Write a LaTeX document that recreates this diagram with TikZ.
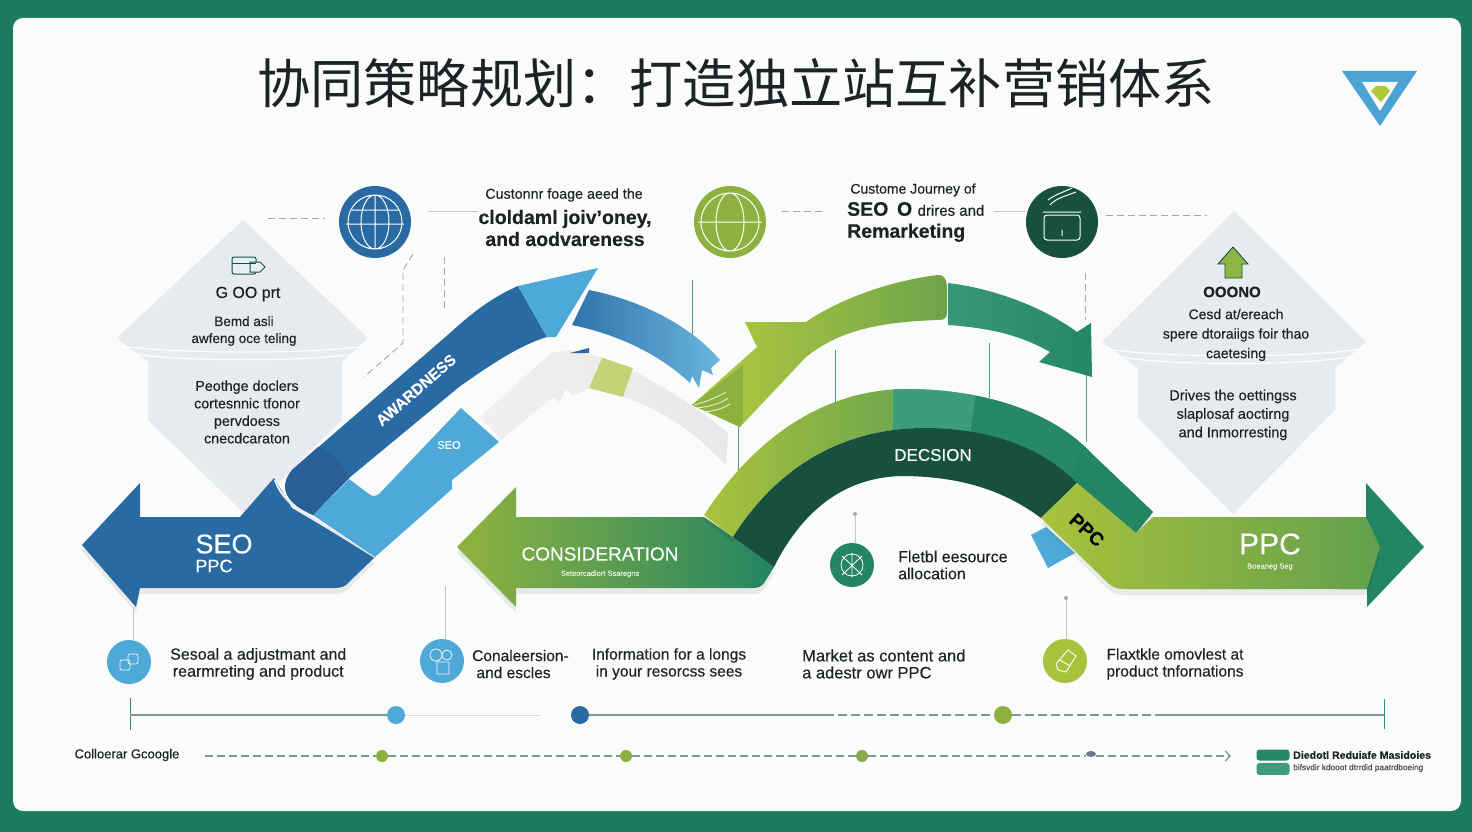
\documentclass[tikz,border=0pt]{standalone}
\usepackage{fontspec}
\setmainfont{Liberation Sans}[FakeBold=0.25]
\newfontfamily\cjk{Noto Sans CJK SC}
\usetikzlibrary{shapes.geometric,arrows.meta,positioning,shadows}
\definecolor{frame}{HTML}{1C7A5F}
\definecolor{card}{HTML}{FAFBFB}
\definecolor{navy}{HTML}{2A6AA3}
\definecolor{navydark}{HTML}{275F96}
\definecolor{sky}{HTML}{4FA9D8}
\definecolor{lime}{HTML}{A9C23C}
\definecolor{limelight}{HTML}{B8CB3F}
\definecolor{leaf}{HTML}{8DB13F}
\definecolor{teal}{HTML}{238562}
\definecolor{tealmid}{HTML}{3E9C7E}
\definecolor{pine}{HTML}{17503F}
\definecolor{panel}{HTML}{E7EBEF}
\definecolor{ink}{HTML}{1E2225}
\definecolor{rail}{HTML}{8A9392}
\begin{document}
\begin{tikzpicture}[
    x=1pt, y=-1pt,
    softshadow/.style={drop shadow={shadow xshift=0pt, shadow yshift=-6pt, opacity=.07, fill=black}},
    panelbox/.style={fill=panel, draw=none},
    disc/.style={circle, inner sep=0pt, minimum size=#1},
    bigdisc/.style={disc=72pt},
    smalldisc/.style={disc=44pt},
    dot/.style={circle, inner sep=0pt, minimum size=#1},
    dashline/.style={gray!70, dashed, dash pattern=on 7pt off 4pt, line width=.9pt},
    thinline/.style={gray!45, line width=.8pt},
    tealline/.style={teal!80, line width=1pt},
    railline/.style={rail, line width=1.2pt},
    railtick/.style={teal!70!sky, line width=1pt},
    icon/.style={white, line width=1pt},
    bodytxt/.style={font=\fontsize{15.5}{17}\selectfont, text=ink, align=center, inner sep=0pt},
    paneltxt/.style={font=\fontsize{14.3}{17.5}\selectfont, text=ink, align=center, inner sep=0pt},
    leadtxt/.style={font=\fontsize{14.3}{15}\selectfont, text=ink, align=center, inner sep=0pt},
    strongtxt/.style={font=\fontsize{19.5}{22}\selectfont\bfseries, text=ink, align=center, inner sep=0pt},
    bandtxt/.style={text=white, inner sep=0pt}
]
\useasboundingbox (0,0) rectangle (1472,832);

% === FRAME ===
\fill[frame] (0,0) rectangle (1472,832);
\fill[card, rounded corners=10pt] (13,18) rectangle (1461,811);

% === TITLE AND LOGO ===
\node[text=ink, inner sep=0pt] (title) at (736,83) {\cjk\fontsize{53.2}{60}\selectfont 协同策略规划：打造独立站互补营销体系};
\fill[sky!90!navy] (1342,71) -- (1417,71) -- (1380,126) -- cycle;
\fill[card] (1362,82) -- (1398,82) -- (1380,111) -- cycle;
\fill[lime!90!yellow] (1371,91) -- (1376,86) -- (1385,86) -- (1390,91) -- (1381,102) -- cycle;

% === SIDE PANELS ===
\fill[panelbox] (243,220) -- (368,338) -- (342,362) -- (342,420) -- (246,515) -- (148,420) -- (148,362) -- (117,338) -- cycle;
\draw[white, line width=1pt] (122,346) .. controls (170,354) and (320,354) .. (364,346);
\draw[white, line width=1pt] (130,353) .. controls (170,362) and (320,362) .. (356,353);
\fill[panelbox] (1234,211) -- (1366,342) -- (1335,368) -- (1335,410) -- (1233,514) -- (1138,418) -- (1138,368) -- (1102,342) -- cycle;
\draw[white, line width=1pt] (1108,349) .. controls (1160,358) and (1310,358) .. (1360,349);
\draw[white, line width=1pt] (1116,356) .. controls (1160,366) and (1310,366) .. (1352,356);

% === PANEL TEXT ===
\node[font=\fontsize{16}{18}\selectfont, text=ink, inner sep=0pt] (left-head) at (248,294) {G OO prt};
\node[paneltxt, font=\fontsize{13.5}{17}\selectfont] (left-top) at (244,331) {Bemd asli\\awfeng oce teling};
\node[paneltxt] (left-low) at (247,412) {Peothge doclers\\cortesnnic tfonor\\pervdoess\\cnecdcaraton};
\node[font=\fontsize{15}{17}\selectfont\bfseries, text=ink, inner sep=0pt] (right-head) at (1232,292) {OOONO};
\node[paneltxt, font=\fontsize{14}{19.5}\selectfont] (right-top) at (1236,335) {Cesd at/ereach\\spere dtoraiigs foir thao\\caetesing};
\node[paneltxt, font=\fontsize{14.5}{18.5}\selectfont] (right-low) at (1233,415) {Drives the oettingss\\slaplosaf aoctirng\\and Inmorresting};

% === PANEL ICONS ===
\draw[pine, line width=1pt, fill=panel!60!sky!30, rounded corners=2pt] (232,257) rectangle (256,274);
\draw[pine, line width=1pt, fill=panel!60!sky!30] (250,262) -- (260,262) -- (265,267) -- (260,272) -- (250,272) -- cycle;
\draw[pine, line width=.8pt] (232,263) -- (256,263);
\draw[pine, line width=.9pt, fill=lime!80!teal] (1233,247) -- (1248,264) -- (1242,264) -- (1242,278) -- (1225,278) -- (1225,264) -- (1218,264) -- cycle;

% === GUIDE LINES BEHIND THE ARROWS ===
\coordinate (guide-a) at (692,280);
\coordinate (guide-b) at (692,372);
\coordinate (guide-c) at (738,425);
\coordinate (guide-d) at (738,472);
\coordinate (guide-e) at (835,350);
\coordinate (guide-f) at (835,405);
\coordinate (guide-g) at (989,343);
\coordinate (guide-h) at (989,398);
\coordinate (guide-i) at (1086,375);
\coordinate (guide-j) at (1086,442);
\draw[tealline] (guide-a) -- (guide-b);
\draw[tealline] (guide-c) -- (guide-d);
\draw[tealline] (guide-e) -- (guide-f);
\draw[tealline] (guide-g) -- (guide-h);
\draw[tealline] (guide-i) -- (guide-j);

% === SEO ARROW ===
\fill[navy, softshadow] (82,545) -- (140,483) -- (140,517) -- (240,517) -- (274,478) -- (292,508) -- (375,557) -- (350,581) .. controls (346,586) and (342,588) .. (335,588) -- (140,588) -- (136,607) -- cycle;
\draw[panel, line width=2pt] (275,480) .. controls (280,495) and (290,505) .. (312,518) -- (375,557);

% === GREY RETURN ARROW ===
\shade[left color=gray!12, right color=gray!18] (480,417) -- (551,353) -- (570,350) -- (602,357) .. controls (650,375) and (700,410) .. (728,433) -- (726,465) -- (700,440) .. controls (675,420) and (650,405) .. (623,397) -- (589,388) -- (572,396) -- (566,388) -- (560,402) -- (553,397) -- (501,440) -- cycle;
\fill[lime!70!white] (602,358) -- (633,368) -- (623,397) -- (589,388) -- cycle;
\fill[navy] (570,353) -- (589,348) -- (589,353) -- cycle;

% === AWARENESS BAND ===
\fill[sky] (313,515) -- (349,479) -- (369,494) .. controls (373,497) and (376,496) .. (379,494) -- (461,408) -- (499,442) -- (452,480) -- (452,489) -- (375,557) -- cycle;
\fill[navy] (313,515) .. controls (290,505) and (276,490) .. (292,470) -- (450,333) .. controls (475,310) and (495,296) .. (518,286) -- (547,337) .. controls (520,345) and (490,365) .. (459,387) -- (349,478) -- cycle;
\fill[navydark] (313,515) .. controls (290,505) and (276,490) .. (292,470) -- (318,447) .. controls (332,452) and (344,465) .. (349,478) -- cycle;
\shade[left color=navy!85!sky, right color=sky!85!white] (589,290) .. controls (640,300) and (690,325) .. (720,360) -- (711,368) -- (713,375) -- (702,370) -- (699,388) -- (692,376) -- (690,383) .. controls (660,355) and (620,335) .. (572,325) -- cycle;
\fill[sky] (518,286) -- (598,268) -- (556,337) -- (547,337) -- cycle;
\node[bandtxt, font=\fontsize{15.5}{19}\selectfont\bfseries, rotate=41] (aware-label) at (416,390) {AWARDNESS};
\node[bandtxt, font=\fontsize{11}{13}\selectfont] (seo-small) at (449,445) {SEO};
\node[bandtxt, font=\fontsize{27}{30}\selectfont] (seo-label) at (224,544) {SEO};
\node[bandtxt, font=\fontsize{18}{20}\selectfont] (ppc-small) at (214,566) {PPC};

% === CONSIDERATION ARROW ===
\shade[left color=leaf!90!lime, middle color=leaf!85!teal, right color=teal, softshadow] (457,547) -- (516,487) -- (516,517) -- (704,517) -- (733,537) -- (774,567) -- (764,583) .. controls (761,587) and (758,588) .. (752,588) -- (516,588) -- (516,607) -- cycle;
\node[text=card, font=\fontsize{19}{21}\selectfont, inner sep=0pt] (consider-label) at (600,554) {CONSIDERATION};
\node[text=card!85!leaf, font=\fontsize{7.5}{9}\selectfont, below=6pt of consider-label] (consider-sub) {Seteorcadiort Ssaregns};

% === GREEN UPPER ARROW ===
\shade[left color=tealmid!80!teal, right color=teal!90!tealmid] (948,283) .. controls (990,288) and (1040,305) .. (1077,332) -- (1091,323) -- (1092,377) -- (1039,362) -- (1050,352) .. controls (1020,335) and (990,328) .. (948,325) -- cycle;
\shade[left color=limelight, right color=leaf!70!teal] (745,322) -- (806,322) .. controls (830,305) and (880,282) .. (938,275) .. controls (945,275) and (947,280) .. (947,290) -- (947,312) .. controls (947,318) and (945,320) .. (938,320) .. controls (880,322) and (840,330) .. (806,357) -- (740,427) -- (692,405) -- (757,347) -- cycle;
\fill[leaf] (692,405) -- (743,365) -- (743,420) -- (740,427) -- cycle;
\draw[white!80!lime, line width=.8pt] (694,405) .. controls (705,402) and (716,398) .. (726,392);
\draw[white!80!lime, line width=.8pt] (696,408) .. controls (708,407) and (720,404) .. (728,398);
\draw[white!80!lime, line width=.8pt] (704,412) .. controls (714,411) and (722,409) .. (730,404);

% === DECISION ARCH ===
\shade[left color=lime, middle color=leaf!55!teal, right color=teal, softshadow] (704,515) .. controls (760,430) and (830,390) .. (905,389) .. controls (990,389) and (1055,415) .. (1090,452) -- (1153,512) -- (1136,533) -- (1077,483) .. controls (1040,445) and (985,428) .. (925,428) .. controls (840,428) and (775,470) .. (733,537) -- cycle;
\begin{scope}
    \clip (704,515) .. controls (760,430) and (830,390) .. (905,389) .. controls (990,389) and (1055,415) .. (1090,452) -- (1153,512) -- (1136,533) -- (1077,483) .. controls (1040,445) and (985,428) .. (925,428) .. controls (840,428) and (775,470) .. (733,537) -- cycle;
    \fill[tealmid] (893,380) -- (978,380) -- (970,435) -- (893,435) -- cycle;
    \fill[teal!88!tealmid] (978,380) -- (1100,380) -- (1090,452) -- (1075,490) -- (970,435) -- cycle;
    \fill[teal] (1090,425) -- (1160,500) -- (1136,540) -- (1070,482) -- cycle;
\end{scope}
\fill[pine] (733,537) .. controls (775,470) and (840,428) .. (925,428) .. controls (985,428) and (1040,445) .. (1077,483) -- (1041,518) .. controls (1010,495) and (970,477) .. (905,476) .. controls (850,476) and (805,505) .. (774,567) -- cycle;
\node[text=card, font=\fontsize{17}{19}\selectfont, inner sep=0pt] (decision-label) at (933,455) {DECSION};

% === PPC ARROW ===
\fill[sky] (1031,535) -- (1046,527) -- (1075,553) -- (1048,568) -- cycle;
\fill[teal] (1366,483) -- (1424,547) -- (1367,607) -- (1367,589) -- (1340,589) -- (1340,517) -- (1366,517) -- cycle;
\shade[left color=lime, middle color=lime!85!teal, right color=leaf!60!teal, softshadow] (1077,483) -- (1136,533) -- (1153,517) -- (1366,517) -- (1380,547) -- (1367,589) -- (1123,589) .. controls (1116,589) and (1110,586) .. (1105,580) -- (1041,518) -- cycle;
\node[bandtxt, text=black, font=\fontsize{19}{21}\selectfont\bfseries, rotate=-42] (ppc-slant) at (1087,530) {PPC};
\node[text=card, font=\fontsize{30}{32}\selectfont, inner sep=0pt] (ppc-label) at (1270,544) {PPC};
\node[text=card!85!leaf, font=\fontsize{7.5}{9}\selectfont, below=5pt of ppc-label] (ppc-sub) {Boeaneg Seg};

% === TOP ICON NODES AND TEXT ===
\node[bigdisc, fill=navy] (globe-blue) at (375,222) {};
\node[bigdisc, fill=leaf] (globe-lime) at (730,222) {};
\node[bigdisc, fill=pine] (pot-icon) at (1062,222) {};
\draw[icon] (375,222) circle (27pt) (375,222) ellipse (14pt and 27pt) (375,195) -- (375,249) (346,224) -- (404,224) (352,210) -- (398,210);
\draw[icon] (730,222) circle (29pt) (730,222) ellipse (14pt and 29pt) (698,222) -- (762,222);
\draw[icon, rounded corners=3pt] (1044,215) rectangle (1080,240);
\draw[icon] (1043,212) -- (1081,212) (1050,205) .. controls (1056,198) and (1066,196) .. (1076,192) (1048,200) .. controls (1056,194) and (1064,192) .. (1072,188) (1062,230) -- (1062,236);

\node[leadtxt] (aware-top) at (564,195) {Custonnr foage aeed the};
\node[strongtxt] (aware-main) at (565,228) {cloldaml joiv'oney,\\and aodvareness};
\node[leadtxt, font=\fontsize{14}{15}\selectfont] (journey-top) at (913,190) {Custome Journey of};
\node[strongtxt, anchor=west, align=left] (journey-main) at (847,222) {SEO \,O {\normalfont\fontsize{15}{16}\selectfont drires and}\\Remarketing};

\coordinate (dash-a) at (268,218);
\coordinate (dash-b) at (325,218);
\coordinate (dash-c) at (782,211);
\coordinate (dash-d) at (825,211);
\coordinate (dash-e) at (1106,215);
\coordinate (dash-f) at (1207,215);
\coordinate (dash-g) at (444,257);
\coordinate (dash-h) at (444,310);
\coordinate (dash-i) at (413,254);
\coordinate (dash-j) at (403,270);
\coordinate (dash-k) at (403,343);
\coordinate (dash-l) at (364,377);
\coordinate (dash-m) at (1085,273);
\coordinate (dash-n) at (1085,320);
\draw[dashline] (dash-a) -- (dash-b);
\draw[dashline] (dash-c) -- (dash-d);
\draw[dashline] (dash-e) -- (dash-f);
\draw[dashline] (dash-g) -- (dash-h);
\draw[dashline] (dash-i) -- (dash-j) -- (dash-k) -- (dash-l);
\draw[dashline] (dash-m) -- (dash-n);
\coordinate (lead-a) at (428,211);
\draw[thinline] (lead-a) -- (aware-main.west |- lead-a);
\coordinate (lead-b) at (994,211);
\draw[thinline] (lead-b) -- (pot-icon.west |- lead-b);

% === LOWER ICON NODES AND TEXT ===
\node[smalldisc, fill=teal] (alloc-icon) at (852,565) {};
\node[bodytxt, align=left, font=\fontsize{16}{17}\selectfont, anchor=west] (alloc-text) at (898,565) {Fletbl eesource\\allocation};
\node[dot=4pt, fill=gray!70] (alloc-top) at (855,514) {};
\draw[thinline] (alloc-top) -- (alloc-top |- alloc-icon.north);
\draw[white, line width=.8pt] (852,565) circle (11pt) (842,556) -- (862,575) (862,556) -- (842,575) (852,553) -- (852,577);

\node[smalldisc, fill=sky] (season-icon) at (129,662) {};
\node[smalldisc, fill=sky] (convert-icon) at (442,661) {};
\node[smalldisc, fill=lime] (flex-icon) at (1065,661) {};
\coordinate (season-top) at (133,607);
\coordinate (convert-top) at (445,586);
\node[dot=4pt, fill=gray!70] (flex-top) at (1066,598) {};
\draw[thinline] (season-top) -- (season-top |- season-icon.north);
\draw[thinline] (convert-top) -- (convert-top |- convert-icon.north);
\draw[thinline] (flex-top) -- (flex-top |- flex-icon.north);
\draw[white!90!sky, line width=.8pt, rounded corners=2pt] (120,660) rectangle (130,670) (128,654) rectangle (138,664);
\draw[white!90!sky, line width=.8pt] (436,655) circle (6pt) (447,655) circle (5pt) (437,662) rectangle (449,674);
\draw[white, line width=.9pt] (1056,664) -- (1068,650) -- (1076,656) -- (1066,672) -- (1058,670) -- cycle (1060,660) -- (1070,666);

\node[bodytxt, font=\fontsize{16}{17}\selectfont, anchor=west] (season-text) at (170,664) {Sesoal a adjustmant and\\rearmreting and product};
\node[bodytxt, anchor=west, align=left] (convert-text) at (472,664) {Conaleersion-\\\ and escles};
\node[bodytxt] (inform-text) at (669,664) {Information for a longs\\in your resorcss sees};
\node[bodytxt, font=\fontsize{16.5}{17}\selectfont, align=left, anchor=west] (market-text) at (802,664) {Market as content and\\a adestr owr PPC};
\node[bodytxt] (flex-text) at (1175,664) {Flaxtkle omovlest at\\product tnfornations};

% === UPPER RAIL ===
\node[dot=18pt, fill=sky] (rail-a) at (396,715) {};
\node[dot=18pt, fill=navy] (rail-b) at (580,715) {};
\node[dot=18pt, fill=leaf] (rail-c) at (1003,715) {};
\coordinate (rail-start) at (130,715);
\coordinate (rail-end) at (1384,715);
\coordinate (rail-fade) at (540,715);
\coordinate (rail-dash) at (825,715);
\coordinate (rail-back) at (1155,715);
\coordinate (tick-a) at (130,698);
\coordinate (tick-b) at (130,730);
\coordinate (tick-c) at (1384,699);
\coordinate (tick-d) at (1384,729);
\draw[railtick] (tick-a) -- (tick-b);
\draw[railtick] (tick-c) -- (tick-d);
\draw[railline] (rail-start) -- (rail-a);
\draw[gray!30, line width=1pt] (rail-a) -- (rail-fade);
\draw[railline] (rail-b) -- (rail-dash);
\draw[railline, dashed, dash pattern=on 9pt off 4pt] (rail-dash) -- (rail-c);
\draw[railline, dashed, dash pattern=on 9pt off 4pt] (rail-c) -- (rail-back);
\draw[railline] (rail-back) -- (rail-end);

% === LOWER RAIL ===
\node[font=\fontsize{13}{15}\selectfont, text=ink, inner sep=0pt] (rail-label) at (127,755) {Colloerar Gcoogle};
\node[dot=12pt, fill=leaf] (step-a) at (382,756) {};
\node[dot=12pt, fill=leaf] (step-b) at (626,756) {};
\node[dot=12pt, fill=leaf!80!gray] (step-c) at (862,756) {};
\node[ellipse, inner sep=0pt, minimum width=10pt, minimum height=6pt, fill=gray!70!navy] (step-d) at (1091,754) {};
\coordinate (step-start) at (205,756);
\coordinate (step-end) at (1231,756);
\draw[railline, dashed, dash pattern=on 8pt off 4pt] (step-start) -- (step-a);
\draw[railline, dashed, dash pattern=on 8pt off 4pt] (step-a) -- (step-b);
\draw[railline, dashed, dash pattern=on 8pt off 4pt] (step-b) -- (step-c);
\draw[railline, dashed, dash pattern=on 8pt off 4pt] (step-c) -- (step-d.west |- step-c);
\draw[railline, dashed, dash pattern=on 8pt off 4pt, -{Straight Barb[length=5pt]}] (step-d.east |- step-end) -- (step-end);

% === LEGEND ===
\node[rectangle, rounded corners=3pt, fill=teal!90!tealmid, minimum width=33pt, minimum height=11pt, inner sep=0pt] (legend-a) at (1273,755) {};
\node[rectangle, rounded corners=3pt, fill=tealmid, minimum width=33pt, minimum height=12pt, inner sep=0pt, below=2pt of legend-a] (legend-b) {};
\node[font=\fontsize{10.6}{12}\selectfont\bfseries, text=ink, anchor=west, inner sep=0pt] (legend-main) at (1293,755) {Diedotl Reduiafe Masidoies};
\node[font=\fontsize{8.3}{9}\selectfont, text=ink!80, anchor=west, inner sep=0pt] (legend-sub) at (1293,768) {bifsvdir kdooot dtrrdid paatrdboeing};

\end{tikzpicture}
\end{document}
